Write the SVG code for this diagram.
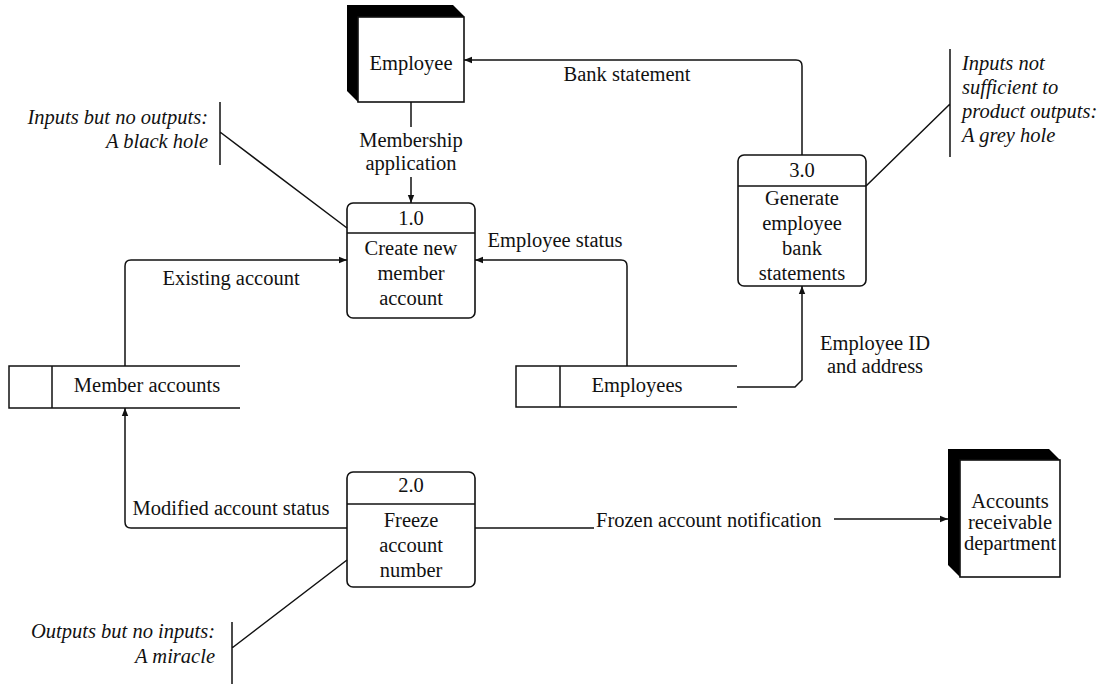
<svg xmlns="http://www.w3.org/2000/svg" width="1102" height="684" viewBox="0 0 1102 684">
<style>
text{font-family:"Liberation Serif","Times New Roman",serif;font-size:20.5px;fill:#111}
.c{text-anchor:middle}
.r{text-anchor:end}
.i{font-style:italic}
.box{fill:#fff;stroke:#111;stroke-width:1.6}
.ln{fill:none;stroke:#111;stroke-width:1.5}
.sh{fill:#000}
</style>
<defs>
<marker id="ah" viewBox="0 0 10 10" refX="10" refY="5" markerWidth="8" markerHeight="8" markerUnits="userSpaceOnUse" orient="auto">
<path d="M0,1 L10,5 L0,9 Z" fill="#111"/>
</marker>
</defs>
<rect width="1102" height="684" fill="#fff"/>

<g id="employee">
<polygon class="sh" points="347,5 453,5 464,16 464,102 358,102 347,91"/>
<rect class="box" x="358" y="17" width="106" height="85"/>
<text class="c" x="411" y="70">Employee</text>
</g>

<g id="accounts-receivable">
<polygon class="sh" points="948,449 1049,449 1060,460 1060,577 960,577 948,565"/>
<rect class="box" x="960" y="460" width="100" height="117"/>
<text class="c" x="1010" y="508">Accounts</text>
<text class="c" x="1010" y="529">receivable</text>
<text class="c" x="1010" y="550">department</text>
</g>

<g id="p1">
<rect class="box" x="347" y="203" width="128" height="115" rx="6"/>
<line class="ln" x1="347" y1="233" x2="475" y2="233"/>
<text class="c" x="411" y="225">1.0</text>
<text class="c" x="411" y="255">Create new</text>
<text class="c" x="411" y="280">member</text>
<text class="c" x="411" y="305">account</text>
</g>

<g id="p2">
<rect class="box" x="347" y="472" width="128" height="115" rx="6"/>
<line class="ln" x1="347" y1="504" x2="475" y2="504"/>
<text class="c" x="411" y="492">2.0</text>
<text class="c" x="411" y="527">Freeze</text>
<text class="c" x="411" y="552">account</text>
<text class="c" x="411" y="577">number</text>
</g>

<g id="p3">
<rect class="box" x="738" y="155" width="128" height="131" rx="6"/>
<line class="ln" x1="738" y1="186" x2="866" y2="186"/>
<text class="c" x="802" y="177">3.0</text>
<text class="c" x="802" y="205">Generate</text>
<text class="c" x="802" y="230">employee</text>
<text class="c" x="802" y="255">bank</text>
<text class="c" x="802" y="280">statements</text>
</g>

<g id="store-member-accounts">
<path class="ln" d="M240,366 H9 V408 H240 M52,366 V408"/>
<text class="c" x="147" y="392">Member accounts</text>
</g>

<g id="store-employees">
<path class="ln" d="M737,366 H516 V407 H737 M560,366 V407"/>
<text class="c" x="637" y="392">Employees</text>
</g>

<g id="connectors">
<line class="ln" x1="411" y1="102" x2="411" y2="127"/>
<line class="ln" x1="411" y1="177" x2="411" y2="203" marker-end="url(#ah)"/>
<path class="ln" d="M802,155 V66 Q802,60 796,60 H464" marker-end="url(#ah)"/>
<path class="ln" d="M627,366 V266 Q627,260 621,260 H475" marker-end="url(#ah)"/>
<path class="ln" d="M125,366 V266 Q125,260 131,260 H347" marker-end="url(#ah)"/>
<path class="ln" d="M737,387 H795 L802,380 V286" marker-end="url(#ah)"/>
<path class="ln" d="M347,528 H131 Q125,528 125,522 V408" marker-end="url(#ah)"/>
<line class="ln" x1="475" y1="528" x2="594" y2="528"/>
<line class="ln" x1="834" y1="519" x2="948" y2="519" marker-end="url(#ah)"/>
</g>

<g id="labels">
<text class="c" x="411" y="147">Membership</text>
<text class="c" x="411" y="170">application</text>
<text class="c" x="627" y="81">Bank statement</text>
<text class="c" x="555" y="247">Employee status</text>
<text class="c" x="231" y="285">Existing account</text>
<text class="c" x="875" y="350">Employee ID</text>
<text class="c" x="875" y="373">and address</text>
<text class="c" x="231" y="515">Modified account status</text>
<text x="596" y="527">Frozen account notification</text>
</g>

<g id="annotations">
<path class="ln" d="M220,102 V165 M220,132 L347,228"/>
<text class="r i" x="208" y="124">Inputs but no outputs:</text>
<text class="r i" x="208" y="148">A black hole</text>
<path class="ln" d="M950,49 V157 M950,104 L866,186"/>
<text class="i" x="962" y="70">Inputs not</text>
<text class="i" x="962" y="94">sufficient to</text>
<text class="i" x="962" y="118">product outputs:</text>
<text class="i" x="962" y="142">A grey hole</text>
<path class="ln" d="M232,622 V684 M232,648 L347,560"/>
<text class="r i" x="215" y="638">Outputs but no inputs:</text>
<text class="r i" x="215" y="663">A miracle</text>
</g>
</svg>
